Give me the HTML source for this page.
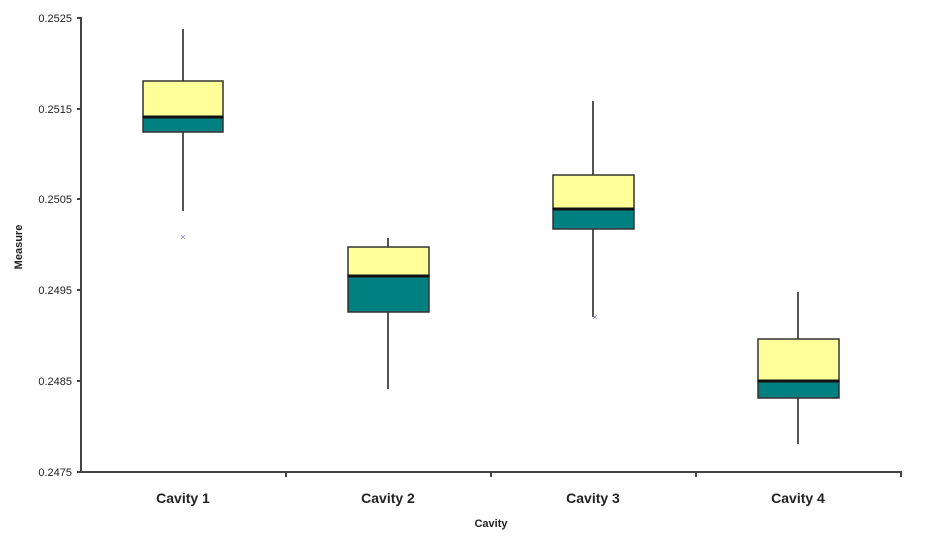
<!DOCTYPE html>
<html><head><meta charset="utf-8"><style>
html,body{margin:0;padding:0;background:#fff;}
svg{display:block;font-family:"Liberation Sans",Arial,sans-serif;}
</style></head><body>
<svg width="936" height="539" viewBox="0 0 936 539" xmlns="http://www.w3.org/2000/svg">
<rect width="936" height="539" fill="#fff"/>
<g stroke="#444" stroke-width="2" fill="none">
<line x1="81" y1="17" x2="81" y2="473"/>
<line x1="80" y1="472" x2="902" y2="472"/>
<line x1="77" y1="18" x2="81" y2="18"/>
<line x1="77" y1="109" x2="81" y2="109"/>
<line x1="77" y1="199" x2="81" y2="199"/>
<line x1="77" y1="290" x2="81" y2="290"/>
<line x1="77" y1="381" x2="81" y2="381"/>
<line x1="77" y1="472" x2="81" y2="472"/>
<line x1="286" y1="472" x2="286" y2="477"/>
<line x1="491" y1="472" x2="491" y2="477"/>
<line x1="696" y1="472" x2="696" y2="477"/>
<line x1="901" y1="472" x2="901" y2="477"/>
</g>
<g font-size="11" fill="#222" text-anchor="end">
<text x="72" y="22">0.2525</text>
<text x="72" y="113">0.2515</text>
<text x="72" y="203">0.2505</text>
<text x="72" y="294">0.2495</text>
<text x="72" y="385">0.2485</text>
<text x="72" y="476">0.2475</text>
</g>
<g font-size="14" font-weight="bold" fill="#222" text-anchor="middle">
<text x="183" y="503">Cavity 1</text>
<text x="388" y="503">Cavity 2</text>
<text x="593" y="503">Cavity 3</text>
<text x="798" y="503">Cavity 4</text>
</g>
<text x="491" y="527" font-size="11" font-weight="bold" fill="#222" text-anchor="middle">Cavity</text>
<text transform="translate(22,247) rotate(-90)" font-size="11" font-weight="bold" fill="#222" text-anchor="middle">Measure</text>
<g stroke="#555" stroke-width="2">
<line x1="183" y1="29" x2="183" y2="211"/>
<line x1="388" y1="238" x2="388" y2="389"/>
<line x1="593" y1="101" x2="593" y2="317"/>
<line x1="798" y1="292" x2="798" y2="444"/>
</g>
<g stroke="#333" stroke-width="1.5">
<rect x="143" y="81" width="80" height="36" fill="#ffff99"/>
<rect x="143" y="117" width="80" height="15" fill="#008080"/>
<rect x="348" y="247" width="81" height="29" fill="#ffff99"/>
<rect x="348" y="276" width="81" height="36" fill="#008080"/>
<rect x="553" y="175" width="81" height="34" fill="#ffff99"/>
<rect x="553" y="209" width="81" height="20" fill="#008080"/>
<rect x="758" y="339" width="81" height="42" fill="#ffff99"/>
<rect x="758" y="381" width="81" height="17" fill="#008080"/>
</g>
<g stroke="#111" stroke-width="3">
<line x1="143" y1="117" x2="223" y2="117"/>
<line x1="348" y1="276" x2="429" y2="276"/>
<line x1="553" y1="209" x2="634" y2="209"/>
<line x1="758" y1="381" x2="839" y2="381"/>
</g>
<g fill="#7777bb" font-size="9" text-anchor="middle">
<text x="183" y="240">×</text>
<text x="595" y="320">×</text>
</g>
</svg>
</body></html>
